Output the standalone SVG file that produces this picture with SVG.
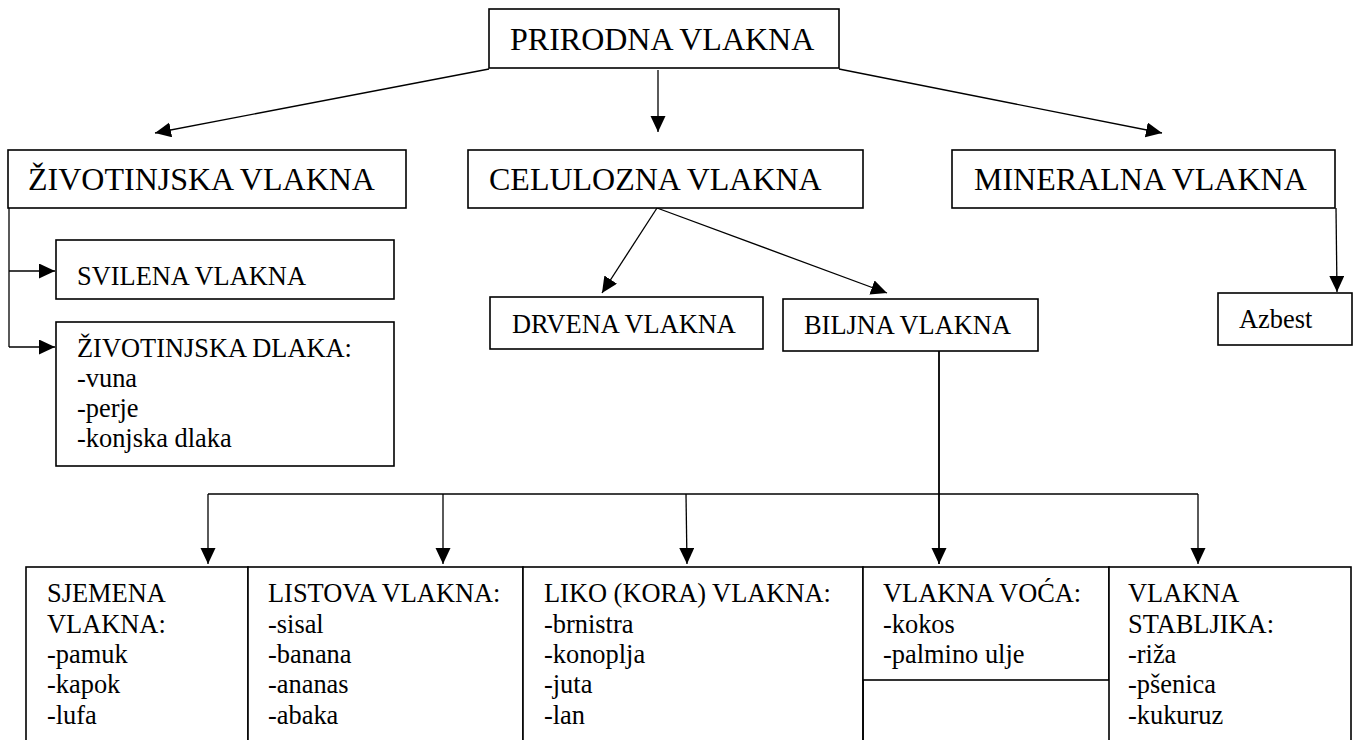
<svg xmlns="http://www.w3.org/2000/svg" width="1354" height="740" viewBox="0 0 1354 740">
<style>
  .box { fill: #ffffff; stroke: #000000; stroke-width: 1.6; }
  .big { font-family: 'Liberation Serif', 'Times New Roman', Tinos, 'DejaVu Serif', serif; font-size: 32px; fill: #000000; }
  .txt { font-family: 'Liberation Serif', 'Times New Roman', Tinos, 'DejaVu Serif', serif; font-size: 26.4px; fill: #000000; }
  .con { fill: none; stroke: #000000; stroke-width: 1.3; }
</style>
<defs>
  <marker id="arr" markerUnits="userSpaceOnUse" markerWidth="17" markerHeight="17" refX="16" refY="7.5" orient="auto">
    <path d="M0,0 L16,7.5 L0,15 Z" fill="#000000"/>
  </marker>
</defs>
<rect width="1354" height="740" fill="#ffffff"/>

<g id="connectors">
  <line class="con" x1="489" y1="69" x2="155" y2="133" marker-end="url(#arr)"/>
  <line class="con" x1="658" y1="70" x2="658" y2="132" marker-end="url(#arr)"/>
  <line class="con" x1="839" y1="69" x2="1162" y2="133" marker-end="url(#arr)"/>
  <polyline class="con" points="9,208 9,347"/>
  <line class="con" x1="9" y1="271" x2="55" y2="271" marker-end="url(#arr)"/>
  <line class="con" x1="9" y1="347" x2="55" y2="347" marker-end="url(#arr)"/>
  <line class="con" x1="657" y1="208" x2="602" y2="293" marker-end="url(#arr)"/>
  <line class="con" x1="657" y1="208" x2="887" y2="293" marker-end="url(#arr)"/>
  <line class="con" x1="1336" y1="208" x2="1337" y2="292" marker-end="url(#arr)"/>
  <line class="con" x1="939" y1="351" x2="939" y2="564" marker-end="url(#arr)" style="stroke-width:1.8"/>
  <line class="con" x1="208" y1="494" x2="1198" y2="494"/>
  <line class="con" x1="208" y1="494" x2="208" y2="564" marker-end="url(#arr)"/>
  <line class="con" x1="443" y1="494" x2="443" y2="564" marker-end="url(#arr)"/>
  <line class="con" x1="686" y1="494" x2="687" y2="564" marker-end="url(#arr)"/>
  <line class="con" x1="1198" y1="494" x2="1198" y2="564" marker-end="url(#arr)"/>
</g>

<g id="prirodna">
  <rect class="box" x="489" y="9" width="350" height="59"/>
  <text class="big" x="510" y="50">PRIRODNA VLAKNA</text>
</g>
<g id="zivotinjska">
  <rect class="box" x="8" y="150" width="398" height="58"/>
  <text class="big" x="28" y="190">ŽIVOTINJSKA VLAKNA</text>
</g>
<g id="celulozna">
  <rect class="box" x="468" y="150" width="395" height="58"/>
  <text class="big" x="489" y="190">CELULOZNA VLAKNA</text>
</g>
<g id="mineralna">
  <rect class="box" x="952" y="150" width="383" height="58"/>
  <text class="big" x="974" y="190">MINERALNA VLAKNA</text>
</g>
<g id="svilena">
  <rect class="box" x="56" y="240" width="338" height="59"/>
  <text class="txt" x="77" y="285">SVILENA VLAKNA</text>
</g>
<g id="dlaka">
  <rect class="box" x="56" y="322" width="338" height="144"/>
  <text class="txt" x="77" y="357">ŽIVOTINJSKA DLAKA:</text>
  <text class="txt" x="77" y="387">-vuna</text>
  <text class="txt" x="77" y="417">-perje</text>
  <text class="txt" x="77" y="447">-konjska dlaka</text>
</g>
<g id="drvena">
  <rect class="box" x="490" y="297" width="273" height="52"/>
  <text class="txt" x="512" y="333">DRVENA VLAKNA</text>
</g>
<g id="biljna">
  <rect class="box" x="783" y="299" width="255" height="52"/>
  <text class="txt" x="804" y="334">BILJNA VLAKNA</text>
</g>
<g id="azbest">
  <rect class="box" x="1218" y="293" width="134" height="52"/>
  <text class="txt" x="1239" y="328">Azbest</text>
</g>
<g id="sjemena">
  <rect class="box" x="26" y="567" width="222" height="190"/>
  <text class="txt" x="47" y="602">SJEMENA</text>
  <text class="txt" x="47" y="632.5">VLAKNA:</text>
  <text class="txt" x="47" y="663">-pamuk</text>
  <text class="txt" x="47" y="693">-kapok</text>
  <text class="txt" x="47" y="724">-lufa</text>
</g>
<g id="listova">
  <rect class="box" x="248" y="567" width="275" height="190"/>
  <text class="txt" x="268" y="602">LISTOVA VLAKNA:</text>
  <text class="txt" x="268" y="632.5">-sisal</text>
  <text class="txt" x="268" y="663">-banana</text>
  <text class="txt" x="268" y="693">-ananas</text>
  <text class="txt" x="268" y="724">-abaka</text>
</g>
<g id="liko">
  <rect class="box" x="523" y="567" width="340" height="190"/>
  <text class="txt" x="544" y="602">LIKO (KORA) VLAKNA:</text>
  <text class="txt" x="544" y="632.5">-brnistra</text>
  <text class="txt" x="544" y="663">-konoplja</text>
  <text class="txt" x="544" y="693">-juta</text>
  <text class="txt" x="544" y="724">-lan</text>
</g>
<g id="voca">
  <rect class="box" x="863" y="567" width="246" height="113"/>
  <line class="box" x1="863" y1="680" x2="863" y2="745"/>
  <text class="txt" x="883" y="602">VLAKNA VOĆA:</text>
  <text class="txt" x="883" y="632.5">-kokos</text>
  <text class="txt" x="883" y="663">-palmino ulje</text>
</g>
<g id="stabljika">
  <rect class="box" x="1109" y="567" width="242" height="190"/>
  <text class="txt" x="1128" y="602">VLAKNA</text>
  <text class="txt" x="1128" y="632.5">STABLJIKA:</text>
  <text class="txt" x="1128" y="663">-riža</text>
  <text class="txt" x="1128" y="693">-pšenica</text>
  <text class="txt" x="1128" y="724">-kukuruz</text>
</g>
</svg>
